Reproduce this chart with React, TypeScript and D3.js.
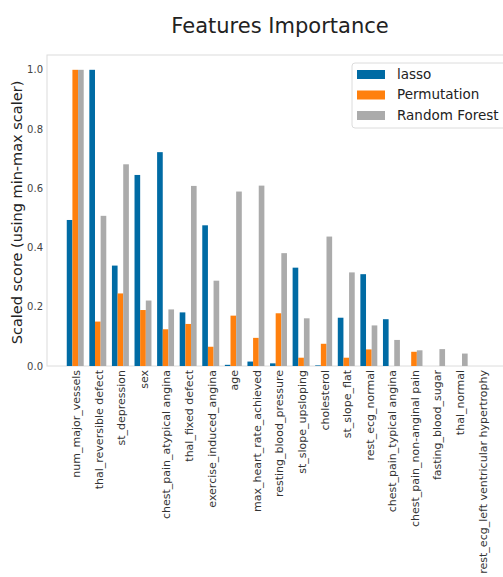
import React from "react";
import * as d3 from "d3";

const features = [
  "num_major_vessels",
  "thal_reversible defect",
  "st_depression",
  "sex",
  "chest_pain_atypical angina",
  "thal_fixed defect",
  "exercise_induced_angina",
  "age",
  "max_heart_rate_achieved",
  "resting_blood_pressure",
  "st_slope_upsloping",
  "cholesterol",
  "st_slope_flat",
  "rest_ecg_normal",
  "chest_pain_typical angina",
  "chest_pain_non-anginal pain",
  "fasting_blood_sugar",
  "thal_normal",
  "rest_ecg_left ventricular hypertrophy",
];

const lasso = [0.493, 1.0, 0.339, 0.645, 0.722, 0.181, 0.475, 0.004, 0.015, 0.009, 0.332, 0.002, 0.163, 0.31, 0.158, 0, 0, 0, 0];
const permutation = [1.0, 0.15, 0.245, 0.189, 0.124, 0.142, 0.065, 0.17, 0.095, 0.178, 0.028, 0.075, 0.028, 0.056, 0, 0.048, 0, 0, 0];
const randomForest = [1.0, 0.507, 0.681, 0.221, 0.191, 0.608, 0.288, 0.589, 0.609, 0.381, 0.161, 0.437, 0.316, 0.137, 0.088, 0.053, 0.057, 0.042, 0];

const seriesNames = ["lasso", "Permutation", "Random Forest"];
const seriesColors = ["#006BA4", "#FF800E", "#ABABAB"];
const yTicks = [0, 0.2, 0.4, 0.6, 0.8, 1.0];

const W = 503;
const H = 577;
const plot = { left: 47, top: 55, bottom: 366, right: 510 };
const font = "'DejaVu Sans', sans-serif";

export default function App() {
  const series = [lasso, permutation, randomForest];
  const n = features.length;
  const x = d3.scaleLinear().domain([-1.25, n - 1 + 1.25]).range([plot.left, plot.right]);
  const y = d3.scaleLinear().domain([0, 1.05]).range([plot.bottom, plot.top]);
  const barW = 0.25;
  const unit = x(1) - x(0);

  return (
    <svg
      width={W}
      height={H}
      style={{ position: "absolute", left: 0, top: 0, background: "#fff" }}
      fontFamily={font}
    >
      <text x={280} y={33} textAnchor="middle" fontSize={21} fill="#222">
        Features Importance
      </text>

      {/* axes frame */}
      <rect
        x={plot.left}
        y={plot.top}
        width={plot.right - plot.left}
        height={plot.bottom - plot.top}
        fill="#fff"
        stroke="#dcdcdc"
        strokeWidth={1}
      />

      {/* bars */}
      {series.map((vals, s) =>
        vals.map((v, i) => {
          const x0 = x(i + (s - 1) * barW - barW / 2);
          return (
            <rect
              key={`${s}-${i}`}
              x={x0}
              y={y(v)}
              width={barW * unit}
              height={y(0) - y(v)}
              fill={seriesColors[s]}
            />
          );
        })
      )}

      {/* y ticks */}
      {yTicks.map((t) => (
        <text
          key={t}
          x={plot.left - 4}
          y={y(t)}
          dy="0.35em"
          textAnchor="end"
          fontSize={10}
          fill="#444"
        >
          {t.toFixed(1)}
        </text>
      ))}

      <text
        transform={`translate(22,${(plot.top + plot.bottom) / 2 + 2}) rotate(-90)`}
        textAnchor="middle"
        fontSize={14.5}
        fill="#222"
      >
        Scaled score (using min-max scaler)
      </text>

      {/* x tick labels */}
      {features.map((f, i) => (
        <text
          key={f}
          transform={`translate(${x(i) + 1},${plot.bottom + 4}) rotate(-90)`}
          textAnchor="end"
          dy="0.35em"
          fontSize={11}
          fill="#333"
        >
          {f}
        </text>
      ))}

      {/* legend */}
      <g>
        <rect x={352} y={63} width={170} height={65} rx={3} fill="#fff" stroke="#dcdcdc" />
        {seriesNames.map((name, s) => (
          <g key={name} transform={`translate(357,${74 + s * 20.5})`}>
            <rect x={0} y={-4} width={28} height={9} fill={seriesColors[s]} />
            <text x={40} y={0} dy="0.35em" fontSize={13.5} fill="#222">
              {name}
            </text>
          </g>
        ))}
      </g>
    </svg>
  );
}
